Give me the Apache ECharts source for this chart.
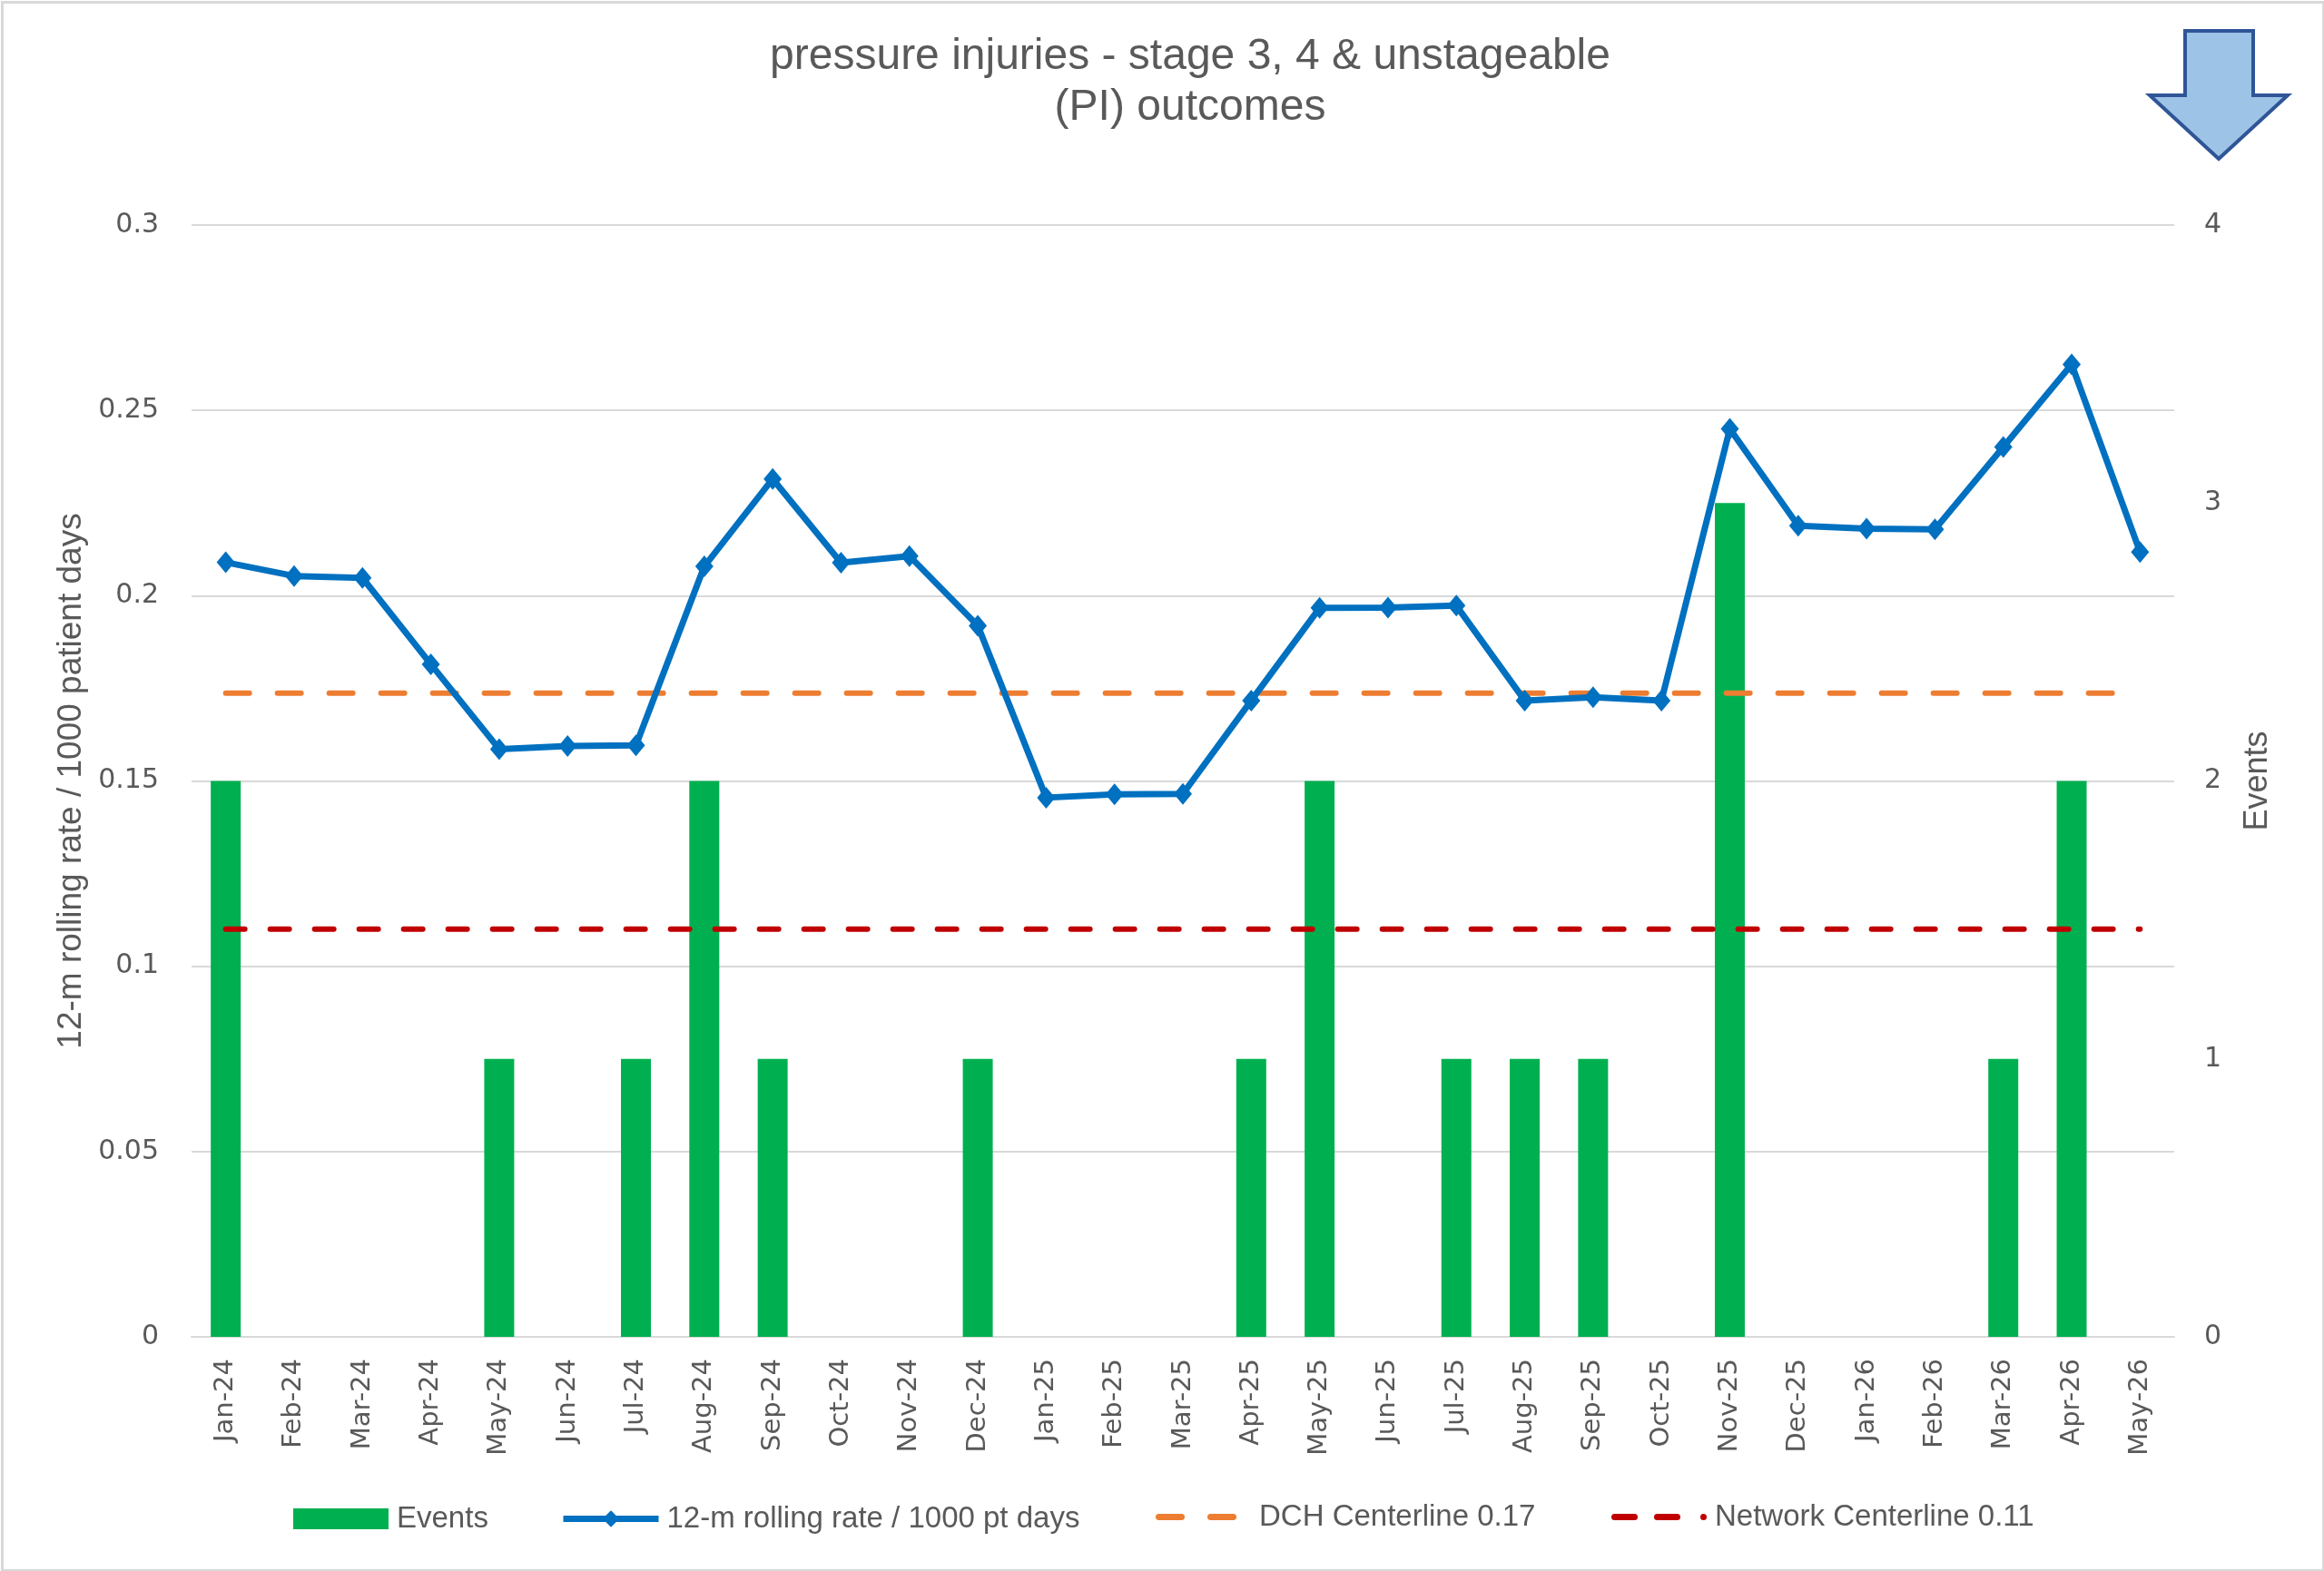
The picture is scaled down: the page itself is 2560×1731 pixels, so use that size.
<!DOCTYPE html>
<html>
<head>
<meta charset="utf-8">
<script src="https://cdn.jsdelivr.net/npm/echarts@6/dist/echarts.min.js"></script>
<style>
html,body{margin:0;padding:0;background:#fff;}
#chart{width:2560px;height:1731px;}
</style>
</head>
<body>
<div id="chart"></div>
<script>
var categories = ['Jan-24','Feb-24','Mar-24','Apr-24','May-24','Jun-24','Jul-24','Aug-24','Sep-24','Oct-24','Nov-24','Dec-24',
  'Jan-25','Feb-25','Mar-25','Apr-25','May-25','Jun-25','Jul-25','Aug-25','Sep-25','Oct-25','Nov-25','Dec-25',
  'Jan-26','Feb-26','Mar-26','Apr-26','May-26'];
var events = [2,0,0,0,1,0,1,2,1,0,0,1, 0,0,0,1,2,0,1,1,1,0,3,0, 0,0,1,2,0];
var rollingRate = [0.2090,0.2053,0.2048,0.1815,0.1586,0.1594,0.1596,0.2079,0.2315,0.2089,0.2107,0.1919,
  0.1455,0.1464,0.1465,0.1717,0.1967,0.1968,0.1973,0.1717,0.1726,0.1717,0.2450,0.2189,
  0.2181,0.2179,0.2401,0.2624,0.2118];
var dchCenterline = categories.map(function(){ return 0.1737; });
var networkCenterline = categories.map(function(){ return 0.11; });
var leftTicks = {min:0, max:0.3, interval:0.05};
var rightTicks = {min:0, max:4, interval:1};

var txt = '#595959';
var chart = echarts.init(document.getElementById('chart'));
var legendText = {fontFamily: 'Liberation Sans', fontSize: 33, color: txt, padding: [0,0,0,4]};
chart.setOption({
  backgroundColor: '#ffffff',
  animation: false,
  title: {
    text: 'pressure injuries - stage 3, 4 & unstageable\n(PI) outcomes',
    left: 1311, top: 35, padding: 0, textAlign: 'center',
    textStyle: {fontFamily: 'Liberation Sans', fontSize: 48, lineHeight: 56, fontWeight: 'normal', color: txt}
  },
  legend: [
    {left: 323, top: 1657, padding: 0, itemWidth: 105, itemHeight: 23, textStyle: legendText,
     data: [{name: 'Events', icon: 'rect'}]},
    {left: 617, top: 1657, padding: 0, itemWidth: 105, itemHeight: 23, textStyle: legendText,
     lineStyle: {width: 7}, data: ['12-m rolling rate / 1000 pt days']},
    {left: 1273, top: 1655, padding: 0, itemWidth: 105, itemHeight: 7, textStyle: legendText,
     data: [{name: 'DCH Centerline 0.17',
       icon: 'path://M3.5,0h25a3.5,3.5 0 0 1 0,7h-25a3.5,3.5 0 0 1 0,-7z M60.5,0h25a3.5,3.5 0 0 1 0,7h-25a3.5,3.5 0 0 1 0,-7z M105,0h0.01v7h-0.01z'}]},
    {left: 1775, top: 1655, padding: 0, itemWidth: 105, itemHeight: 7, textStyle: legendText,
     data: [{name: 'Network Centerline 0.11',
       icon: 'path://M3.5,0h22a3.5,3.5 0 0 1 0,7h-22a3.5,3.5 0 0 1 0,-7z M50.5,0h22a3.5,3.5 0 0 1 0,7h-22a3.5,3.5 0 0 1 0,-7z M101.5,0a3.5,3.5 0 0 1 0,7a3.5,3.5 0 0 1 0,-7z'}]}
  ],
  grid: {left: 211, right: 165, top: 248, bottom: 258, containLabel: false},
  xAxis: {
    type: 'category', data: categories, boundaryGap: true,
    axisLine: {lineStyle: {color: '#D9D9D9', width: 2}},
    axisTick: {show: false},
    axisLabel: {rotate: 90, margin: 24, color: txt, fontFamily: 'DejaVu Sans', fontSize: 29, interval: 0}
  },
  yAxis: [
    {
      type: 'value', min: leftTicks.min, max: leftTicks.max, interval: leftTicks.interval,
      name: '12-m rolling rate / 1000 patient days', nameLocation: 'middle', nameGap: 114, nameRotate: 90,
      nameTextStyle: {fontFamily: 'Liberation Sans', fontSize: 37, color: txt},
      axisLine: {show: false}, axisTick: {show: false},
      axisLabel: {margin: 36, color: txt, fontFamily: 'DejaVu Sans', fontSize: 30},
      splitLine: {lineStyle: {color: '#D9D9D9', width: 2}}
    },
    {
      type: 'value', position: 'right', min: rightTicks.min, max: rightTicks.max, interval: rightTicks.interval,
      name: 'Events', nameLocation: 'middle', nameGap: 74, nameRotate: 90,
      nameTextStyle: {fontFamily: 'Liberation Sans', fontSize: 36, color: txt},
      axisLine: {show: false}, axisTick: {show: false},
      axisLabel: {margin: 33, color: txt, fontFamily: 'DejaVu Sans', fontSize: 30},
      splitLine: {show: false}
    }
  ],
  series: [
    {
      name: 'Events', type: 'bar', yAxisIndex: 1, data: events, barWidth: 33,
      itemStyle: {color: '#00B050'}, z: 1
    },
    {
      name: 'DCH Centerline 0.17', type: 'line', yAxisIndex: 0, data: dchCenterline,
      symbol: 'none', lineStyle: {color: '#ED7D31', width: 6, type: [26, 31], cap: 'round'},
      itemStyle: {color: '#ED7D31'}, z: 3
    },
    {
      name: 'Network Centerline 0.11', type: 'line', yAxisIndex: 0, data: networkCenterline,
      symbol: 'none', lineStyle: {color: '#C00000', width: 6, type: [21, 28], cap: 'round'},
      itemStyle: {color: '#C00000'}, z: 3
    },
    {
      name: '12-m rolling rate / 1000 pt days', type: 'line', yAxisIndex: 0, data: rollingRate,
      symbol: 'diamond', symbolSize: [20, 24],
      lineStyle: {color: '#0070C0', width: 7},
      itemStyle: {color: '#0070C0'}, z: 4
    }
  ],
  graphic: [
    {
      type: 'rect', left: 0, top: 0, silent: true,
      shape: {x: 1, y: 1, width: 2557, height: 1728},
      style: {fill: 'none', stroke: '#D9D9D9', lineWidth: 3}
    },
    {
      type: 'polygon', silent: true,
      shape: {points: [[2407,34],[2482,34],[2482,105],[2520,105],[2444,175],[2368,105],[2407,105]]},
      style: {fill: '#9DC3E6', stroke: '#2F5597', lineWidth: 4, lineJoin: 'miter'}
    }
  ]
});
</script>
</body>
</html>
